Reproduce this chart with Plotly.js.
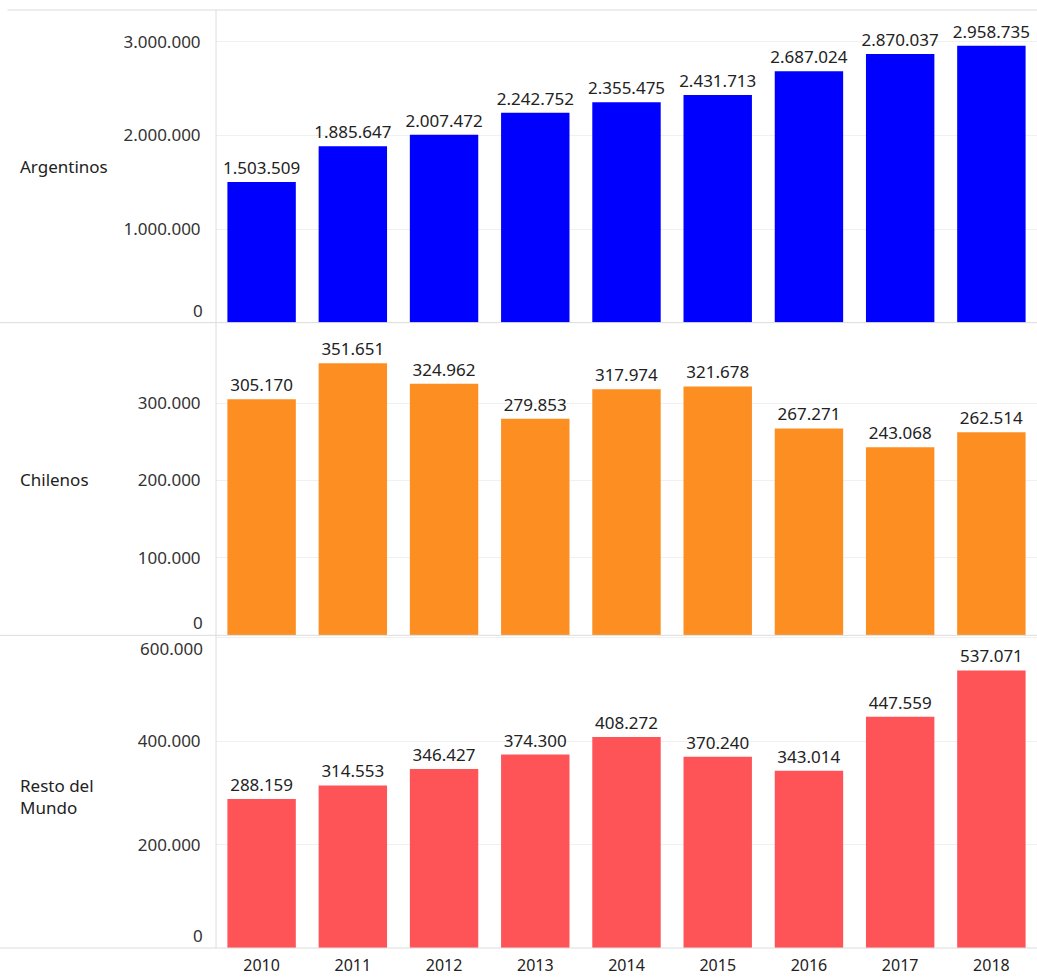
<!DOCTYPE html>
<html><head><meta charset="utf-8">
<script src="https://cdn.plot.ly/plotly-3.0.1.min.js"></script>
<style>html,body{margin:0;padding:0;background:#fff}#chart{width:1037px;height:977px}</style>
</head><body><div id="chart"></div>
<script>
const years = ['2010','2011','2012','2013','2014','2015','2016','2017','2018'];
const rowLabels = ['Argentinos','Chilenos','Resto del<br>Mundo'];
const argentinos = [1503509,1885647,2007472,2242752,2355475,2431713,2687024,2870037,2958735];
const chilenos = [305170,351651,324962,279853,317974,321678,267271,243068,262514];
const restoMundo = [288159,314553,346427,374300,408272,370240,343014,447559,537071];
const tickArg = [1000000,2000000,3000000];
const tickChi = [100000,200000,300000];
const tickRes = [200000,400000];
const edgeTicks = [{axis:'y',v:0},{axis:'y2',v:0},{axis:'y3',v:0},{axis:'y3',v:600000}];
const colors = ['#0000ff','#fd8e22','#fe5457'];

const FF = 'Noto Sans, sans-serif';
const fmt = v => v.toString().replace(/\B(?=(\d{3})+(?!\d))/g,'.');
const series = [argentinos, chilenos, restoMundo];
const axisNames = ['y','y2','y3'];
const traces = series.map((vals,i)=>({
  type:'bar', x:years, y:vals, yaxis:axisNames[i], xaxis:'x',
  marker:{color:colors[i]},
  text:vals.map(fmt), textposition:'outside', cliponaxis:false, constraintext:'none',
  textfont:{size:17,color:'#222',family:FF},
  hoverinfo:'x+y', showlegend:false
}));

const yBase = {
  showgrid:true, gridcolor:'#f0f0f0', zeroline:false, showline:false,
  tickformat:',d', ticks:'outside', ticklen:11, tickcolor:'rgba(0,0,0,0)',
  tickfont:{size:17,color:'#333',family:FF}, fixedrange:true, tickmode:'array'
};
const layout = {
  width:1037, height:977, separators:',.',
  margin:{l:216,r:0,t:10,b:29},
  paper_bgcolor:'#fff', plot_bgcolor:'#fff', font:{family:FF,size:17,color:'#333'},
  bargap:0.25,
  xaxis:{anchor:'y3', showgrid:false, zeroline:false, showline:false,
    tickfont:{size:16,color:'#222',family:FF}, ticks:'outside', ticklen:3, tickcolor:'rgba(0,0,0,0)'},
  yaxis:Object.assign({}, yBase, {domain:[2/3,1], range:[0,3340000], tickvals:tickArg, ticktext:tickArg.map(fmt)}),
  yaxis2:Object.assign({}, yBase, {domain:[1/3,2/3], range:[0,404000], tickvals:tickChi, ticktext:tickChi.map(fmt)}),
  yaxis3:Object.assign({}, yBase, {domain:[0,1/3], range:[0,605000], tickvals:tickRes.concat([600000]), ticktext:tickRes.map(fmt).concat([''])}),
  shapes:[
    {type:'line', xref:'paper', yref:'paper', x0:-0.254, x1:1, y0:1, y1:1, line:{color:'#dcdcdc',width:1}},
    {type:'line', xref:'paper', yref:'paper', x0:-0.264, x1:1, y0:2/3, y1:2/3, line:{color:'#dcdcdc',width:1}},
    {type:'line', xref:'paper', yref:'paper', x0:-0.264, x1:1, y0:1/3, y1:1/3, line:{color:'#dcdcdc',width:1}},
    {type:'line', xref:'paper', yref:'paper', x0:-0.264, x1:1, y0:0, y1:0, line:{color:'#dcdcdc',width:1}},
    {type:'line', xref:'paper', yref:'paper', x0:0, x1:0, y0:0, y1:1, line:{color:'#dcdcdc',width:1}}
  ],
  annotations:rowLabels.map((t,i)=>({
    text:t, xref:'paper', yref:'paper', x:-0.241, xanchor:'left',
    y:[5/6,1/2,1/6][i] + (i===2? -0.005:0), yanchor:'middle', align:'left', showarrow:false,
    font:{size:17,color:'#222',family:FF}
  })).concat(edgeTicks.map(e=>({
    text:fmt(e.v), xref:'paper', yref:e.axis, x:0, y:e.v, xanchor:'right', xshift:-11,
    yanchor:e.v===0?'bottom':'top', yshift:e.v===0?-1:3, showarrow:false,
    font:{size:17,color:'#333',family:FF}
  })))
};
Plotly.newPlot('chart', traces, layout, {displayModeBar:false, staticPlot:true});
</script></body></html>
